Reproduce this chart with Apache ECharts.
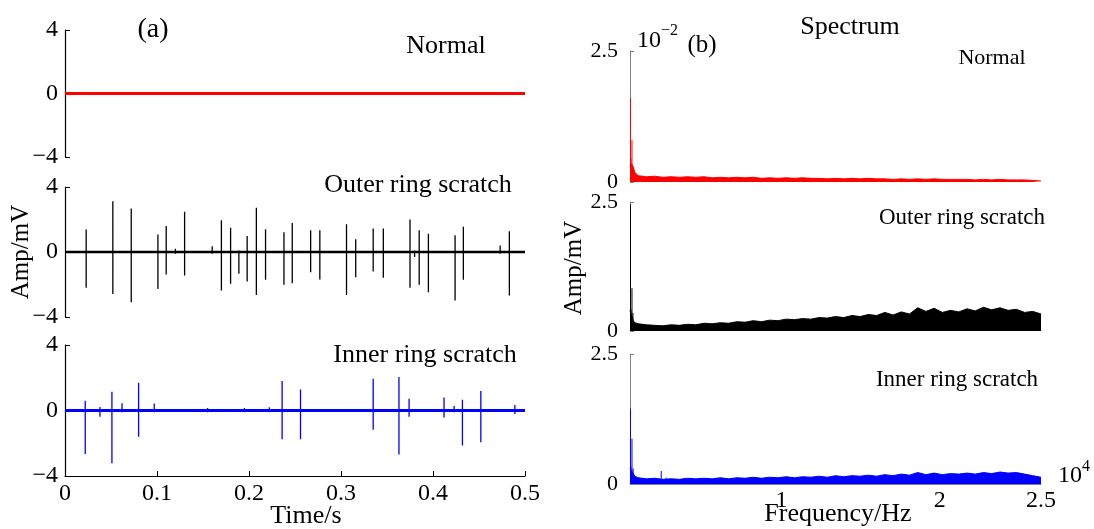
<!DOCTYPE html>
<html>
<head>
<meta charset="utf-8">
<script src="https://cdn.jsdelivr.net/npm/echarts/dist/echarts.min.js"></script>
<style>
  html, body { margin: 0; padding: 0; background: #fff; }
  #main { width: 1094px; height: 529px; }
</style>
</head>
<body>
<div id="main"></div>
<script type="text/javascript">
    // time domain: spikes as [time s, top mV, bottom mV]
    var outerSpikes = [
        [0.023, 1.38, -2.2], [0.052, 3.13, -2.58], [0.072, 2.68, -3.09], [0.101, 1.07, -2.27],
        [0.110, 1.6, -1.38], [0.120, 0.2, -0.1], [0.130, 2.47, -1.44], [0.160, 0.35, -0.1],
        [0.170, 1.96, -2.37], [0.180, 1.5, -1.96], [0.189, 0.1, -1.34], [0.198, 0.99, -1.81],
        [0.208, 2.72, -2.64], [0.218, 1.4, -1.71], [0.238, 1.22, -2.02], [0.247, 1.79, -1.92],
        [0.267, 1.34, -1.24], [0.277, 1.34, -1.69], [0.306, 1.71, -2.64], [0.316, 0.78, -1.55],
        [0.335, 1.44, -1.2], [0.346, 1.44, -1.59], [0.375, 2.0, -2.2], [0.380, 0.1, -0.3],
        [0.385, 1.34, -2.02], [0.395, 1.13, -2.47], [0.424, 1.03, -2.99], [0.433, 1.55, -1.71],
        [0.473, 0.4, -0.1], [0.483, 1.28, -2.68]
    ];
    var innerSpikes = [
        [0.022, 0.59, -2.65], [0.038, 0.22, -0.38], [0.051, 1.15, -3.22], [0.062, 0.45, -0.1],
        [0.080, 1.7, -1.6], [0.097, 0.43, -0.1], [0.155, 0.15, -0.1], [0.195, 0.15, -0.1],
        [0.222, 0.2, -0.1], [0.236, 1.8, -1.76], [0.256, 1.28, -1.76], [0.335, 1.94, -1.17],
        [0.363, 2.04, -2.69], [0.374, 0.71, -0.38], [0.412, 0.79, -0.43], [0.423, 0.28, -0.1],
        [0.432, 0.65, -2.13], [0.452, 1.19, -1.94], [0.489, 0.34, -0.22]
    ];

    // spectrum (frequency in 1e4 Hz, amplitude in 1e-2 mV)
    var headFreq = [0, 0.01, 0.02, 0.03];
    var normalHead = [0.3, 0.35, 0.28, 0.18];
    var outerHead = [0.4, 0.3, 0.2, 0.16];
    var innerHead = [0.3, 0.25, 0.2, 0.15];
    var specFreq = [0.05, 0.1, 0.15, 0.2, 0.25, 0.3, 0.35, 0.4, 0.45, 0.5,
        0.55, 0.6, 0.65, 0.7, 0.75, 0.8, 0.85, 0.9, 0.95, 1.0,
        1.05, 1.1, 1.15, 1.2, 1.25, 1.3, 1.35, 1.4, 1.45, 1.5,
        1.55, 1.6, 1.65, 1.7, 1.75, 1.8, 1.85, 1.9, 1.95, 2.0,
        2.05, 2.1, 2.15, 2.2, 2.25, 2.3, 2.35, 2.4, 2.45, 2.5];
    var normalSpec = [0.12, 0.10, 0.11, 0.09, 0.10, 0.09, 0.10, 0.09, 0.10, 0.08,
        0.09, 0.08, 0.09, 0.08, 0.09, 0.07, 0.08, 0.07, 0.08, 0.07,
        0.08, 0.07, 0.07, 0.06, 0.07, 0.06, 0.07, 0.06, 0.07, 0.06,
        0.06, 0.05, 0.06, 0.05, 0.06, 0.05, 0.06, 0.05, 0.05, 0.05,
        0.05, 0.04, 0.05, 0.04, 0.05, 0.04, 0.04, 0.04, 0.03, 0.02];
    var outerSpec = [0.14, 0.12, 0.11, 0.10, 0.12, 0.11, 0.13, 0.12, 0.15, 0.14,
        0.16, 0.15, 0.18, 0.17, 0.20, 0.18, 0.21, 0.20, 0.23, 0.22,
        0.24, 0.23, 0.26, 0.25, 0.28, 0.26, 0.30, 0.28, 0.32, 0.30,
        0.36, 0.31, 0.37, 0.33, 0.45, 0.38, 0.44, 0.36, 0.40, 0.37,
        0.43, 0.39, 0.46, 0.41, 0.45, 0.40, 0.42, 0.36, 0.38, 0.33];
    var innerSpec = [0.12, 0.10, 0.11, 0.09, 0.10, 0.09, 0.11, 0.10, 0.11, 0.10,
        0.12, 0.10, 0.12, 0.11, 0.13, 0.11, 0.13, 0.12, 0.14, 0.12,
        0.14, 0.13, 0.15, 0.13, 0.16, 0.14, 0.16, 0.15, 0.17, 0.15,
        0.18, 0.16, 0.19, 0.17, 0.22, 0.18, 0.21, 0.18, 0.20, 0.19,
        0.21, 0.19, 0.22, 0.20, 0.23, 0.21, 0.22, 0.19, 0.16, 0.13];
    // low frequency peaks [freq, amp]
    var normalPeaks = [[0.003, 1.6], [0.006, 0.45], [0.012, 0.8], [0.018, 0.3]];
    var outerPeaks = [[0.003, 2.45], [0.006, 0.42], [0.012, 0.83], [0.018, 0.35]];
    var innerPeaks = [[0.003, 1.45], [0.006, 0.33], [0.012, 0.87], [0.019, 0.3], [0.19, 0.25], [0.22, 0.12]];

    var SERIF = '"Liberation Serif", "Times New Roman", serif';

    // vertical strokes, broken apart with '-' so there are no joins
    function spikeLine(spikes) {
        var d = [];
        for (var i = 0; i < spikes.length; i++) {
            var s = spikes[i];
            d.push([s[0], s[1]], [s[0], s[2]], [s[0], '-']);
        }
        return d;
    }

    function spectrum(head, headVals, vals) {
        var d = [];
        for (var i = 0; i < head.length; i++) d.push([head[i], headVals[i]]);
        for (var j = 0; j < specFreq.length; j++) d.push([specFreq[j], vals[j]]);
        return d;
    }

    function peakLine(peaks) {
        var d = [];
        for (var i = 0; i < peaks.length; i++) {
            d.push([peaks[i][0], 0], [peaks[i][0], peaks[i][1]], [peaks[i][0], '-']);
        }
        return d;
    }

    function minus(v) {
        return v < 0 ? '\u2212' + Math.abs(v) : String(v);
    }

    var grids = [
        {left: 65, top: 30, width: 460, height: 127},
        {left: 65, top: 187, width: 460, height: 130},
        {left: 65, top: 345, width: 460, height: 131},
        {left: 630, top: 51, width: 411, height: 131},
        {left: 630, top: 202, width: 411, height: 129},
        {left: 630, top: 354, width: 411, height: 130}
    ];

    var xAxes = [], yAxes = [];
    for (var g = 0; g < 3; g++) {
        var last = g === 2;
        xAxes.push({
            type: 'value', gridIndex: g, min: 0, max: 0.5, interval: 0.1,
            axisLine: {show: last, onZero: false, lineStyle: {color: '#000', width: 1.2}},
            axisTick: {show: last, inside: true, length: 5, lineStyle: {color: '#000'}},
            axisLabel: {show: last, color: '#000', fontSize: 24, fontFamily: SERIF, margin: 6,
                showMinLabel: true, showMaxLabel: true},
            splitLine: {show: false}
        });
        yAxes.push({
            type: 'value', gridIndex: g, min: -4, max: 4, interval: 4,
            axisLine: {show: true, lineStyle: {color: '#000', width: 1.2}},
            axisTick: {show: true, inside: true, length: 5, lineStyle: {color: '#000'}},
            axisLabel: {color: '#000', fontSize: 24, fontFamily: SERIF, margin: 7, formatter: minus},
            splitLine: {show: false}
        });
    }
    for (var h = 3; h < 6; h++) {
        var bottom = h === 5;
        xAxes.push({
            type: 'value', gridIndex: h, min: 0, max: 2.5, interval: 0.5,
            axisLine: {show: bottom, onZero: false, lineStyle: {color: '#808080', width: 1}},
            axisTick: {show: false},
            axisLabel: {
                show: bottom, color: '#000', fontSize: 24, fontFamily: SERIF, margin: 5,
                showMinLabel: true, showMaxLabel: true,
                formatter: function (v) {
                    if (v === 1) return '{a|1}';
                    if (v === 2) return '{b|2}';
                    if (v === 2.5) return '2.5';
                    return '';
                },
                rich: {
                    a: {fontSize: 24, fontFamily: SERIF, color: '#000', padding: [0, 26, 0, 0]},
                    b: {fontSize: 24, fontFamily: SERIF, color: '#000', padding: [0, 38, 0, 0]}
                }
            },
            splitLine: {show: false}
        });
        yAxes.push({
            type: 'value', gridIndex: h, min: 0, max: 2.5, interval: 2.5,
            axisLine: {show: true, lineStyle: {color: '#808080', width: 1}},
            axisTick: {show: true, inside: true, length: 4, lineStyle: {color: '#808080'}},
            axisLabel: {color: '#000', fontSize: 22, fontFamily: SERIF, margin: 12},
            splitLine: {show: false}
        });
    }

    function timeSeries(idx, data, color, width) {
        return {type: 'line', xAxisIndex: idx, yAxisIndex: idx, data: data, symbol: 'none',
            connectNulls: false, lineStyle: {color: color, width: width}, z: 3};
    }

    var series = [
        timeSeries(0, [[0, 0], [0.5, 0]], '#ff0000', 3),
        timeSeries(1, spikeLine(outerSpikes), '#000', 1.3),
        timeSeries(1, [[0, 0], [0.5, 0]], '#000', 2.4),
        timeSeries(2, spikeLine(innerSpikes), '#0000ff', 1.3),
        timeSeries(2, [[0, 0], [0.5, 0]], '#0000ff', 2.8)
    ];
    var specs = [
        [spectrum(headFreq, normalHead, normalSpec), normalPeaks, '#ff0000'],
        [spectrum(headFreq, outerHead, outerSpec), outerPeaks, '#000'],
        [spectrum(headFreq, innerHead, innerSpec), innerPeaks, '#0000ff']
    ];
    for (var k = 0; k < 3; k++) {
        series.push({
            type: 'line', xAxisIndex: k + 3, yAxisIndex: k + 3, data: specs[k][0], symbol: 'none',
            lineStyle: {color: specs[k][2], width: 1}, areaStyle: {color: specs[k][2], opacity: 1}
        });
        series.push({
            type: 'line', xAxisIndex: k + 3, yAxisIndex: k + 3, data: peakLine(specs[k][1]), symbol: 'none',
            connectNulls: false, lineStyle: {color: specs[k][2], width: 1}
        });
    }

    function txt(s, x, y, size, align, rot) {
        return {
            type: 'text', x: x, y: y, rotation: rot || 0, z: 10,
            style: {text: s, font: size + 'px ' + SERIF, fill: '#000',
                align: align || 'center', verticalAlign: 'middle'}
        };
    }

    var graphics = [
        txt('(a)', 153, 30, 28),
        txt('Normal', 446, 46, 26),
        txt('Outer ring scratch', 418, 185, 26),
        txt('Inner ring scratch', 425, 355, 26),
        txt('Amp/mV', 21, 252, 25, 'center', Math.PI / 2),
        txt('Time/s', 306, 516, 26),
        txt('Spectrum', 850, 27, 26),
        txt('10', 637, 41, 24, 'left'),
        txt('\u22122', 661, 31, 16, 'left'),
        txt('(b)', 702, 45, 25),
        txt('Normal', 992, 58, 22),
        txt('Outer ring scratch', 962, 218, 23),
        txt('Inner ring scratch', 957, 380, 23),
        txt('Amp/mV', 574, 268, 25, 'center', Math.PI / 2),
        txt('Frequency/Hz', 838, 514, 26),
        txt('10', 1058, 476, 24, 'left'),
        txt('4', 1082, 467, 16, 'left')
    ];

    var myChart = echarts.init(document.getElementById('main'));
    myChart.setOption({
        animation: false,
        backgroundColor: '#fff',
        grid: grids,
        xAxis: xAxes,
        yAxis: yAxes,
        series: series,
        graphic: graphics
    });
</script>
</body>
</html>
